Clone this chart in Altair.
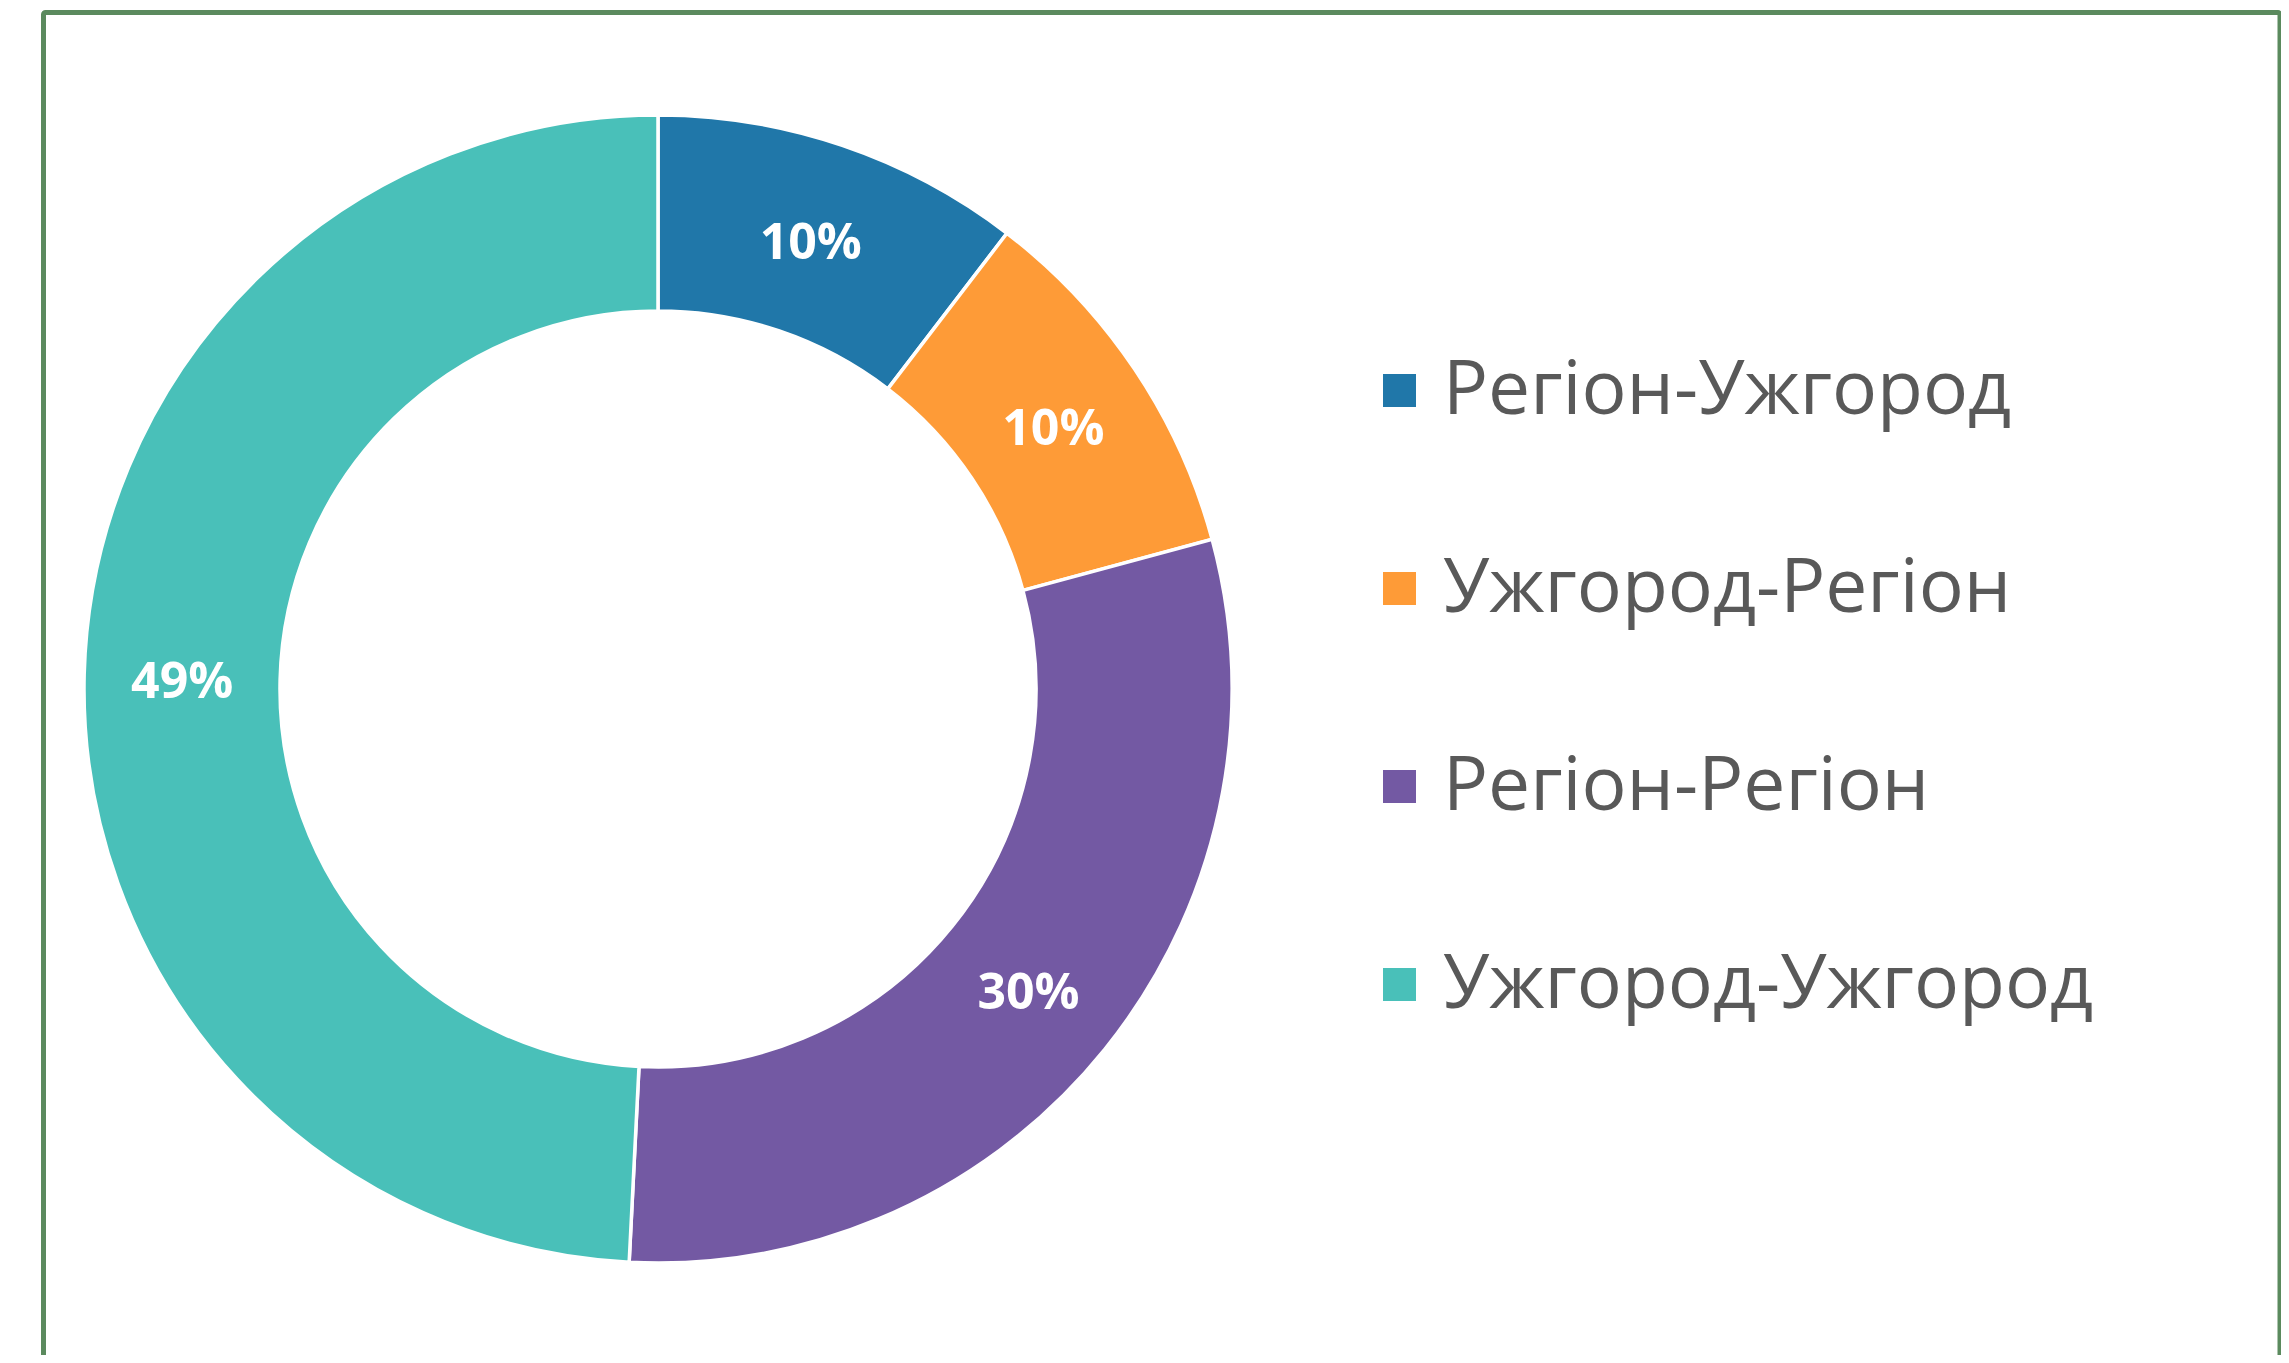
import altair as alt
import pandas as pd

categories = ["Регіон-Ужгород", "Ужгород-Регіон", "Регіон-Регіон", "Ужгород-Ужгород"]
shares = [10.4, 10.4, 30.0, 49.2]
colors = ["#2077a9", "#fe9b37", "#7359a3", "#49c0b9"]

df = pd.DataFrame({"cat": categories, "value": shares, "idx": list(range(len(categories)))})

W, H = 2273, 1347
CX, CY = 650, 681
R_OUT, R_IN = 574, 378

base = alt.Chart(df)

frame = alt.Chart(pd.DataFrame({"k": [0]})).mark_rect(
    fill=None, stroke="#5b8a5e", strokeWidth=5, cornerRadius=2
).encode(x=alt.value(35.5), x2=alt.value(2272), y=alt.value(4.5), y2=alt.value(H + 40))

arcs = base.mark_arc(
    outerRadius=R_OUT, innerRadius=R_IN, stroke="white", strokeWidth=3.5
).encode(
    theta=alt.Theta("value:Q", stack=True),
    color=alt.Color(
        "cat:N",
        scale=alt.Scale(domain=categories, range=colors),
        legend=alt.Legend(
            title=None,
            orient="none",
            legendX=1354,
            legendY=345,
            symbolType="square",
            symbolSize=1089,
            symbolStrokeWidth=0,
            labelFontSize=75,
            labelFont="Open Sans",
            labelColor="#595959",
            labelOffset=6,
            rowPadding=122,
            labelLimit=1000,
        ),
    ),
    order=alt.Order("idx:Q"),
    x=alt.value(CX),
    y=alt.value(CY),
)

labels = base.transform_calculate(
    lab="format(datum.value, '.0f') + '%'"
).mark_text(
    radius=(R_OUT + R_IN) / 2, font="Open Sans", fontWeight="bold", fontSize=50, color="white",
    align="center", baseline="middle", dy=6
).encode(
    theta=alt.Theta("value:Q", stack=True),
    text="lab:N",
    order=alt.Order("idx:Q"),
    x=alt.value(CX),
    y=alt.value(CY),
)

chart = alt.layer(frame, arcs, labels).properties(
    width=W, height=H, autosize=alt.AutoSizeParams(type="none"), padding=0
).configure_view(stroke=None)

chart.save("out.html", embed_options={"renderer": "svg", "actions": False})
